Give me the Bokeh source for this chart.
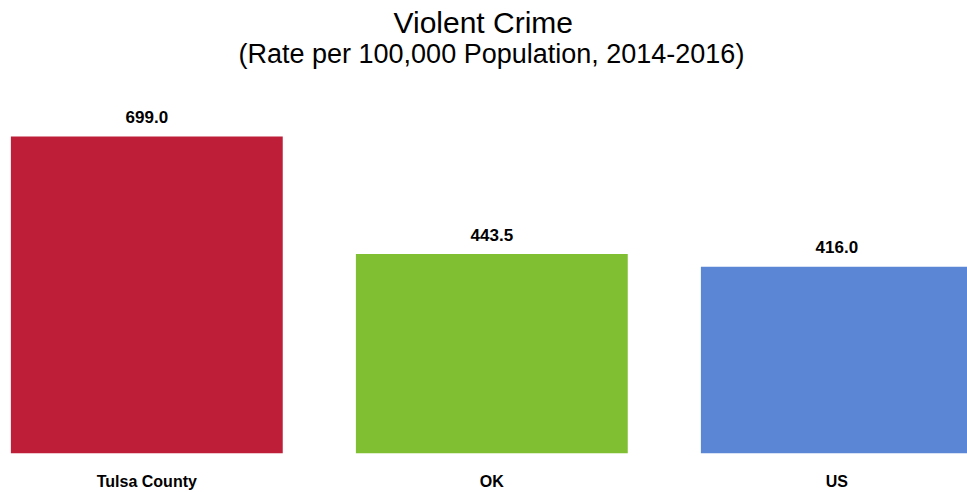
from bokeh.plotting import figure
from bokeh.models import ColumnDataSource, Range1d, FixedTicker, Title
from bokeh.core.properties import value
from bokeh.embed import file_html
from bokeh.resources import INLINE

# ---- data ----
categories = ["Tulsa County", "OK", "US"]
rates = [699.0, 443.5, 416.0]
bar_colors = ["#BE1E37", "#80BF32", "#5B86D6"]
title_text = "Violent Crime"
subtitle_text = "(Rate per 100,000 Population, 2014-2016)"

xs = list(range(len(categories)))
src = ColumnDataSource(dict(
    x=xs,
    top=rates,
    color=bar_colors,
    label=[f"{v:.1f}" for v in rates],
))

LABEL_FONT = "Liberation Sans"

p = figure(
    width=967, height=492,
    output_backend="svg", toolbar_location=None,
    x_range=Range1d(-0.4241, 2.3788),
    y_range=Range1d(10, 862),
    min_border_left=0, min_border_right=0, min_border_top=0, min_border_bottom=39,
    outline_line_color=None,
)

p.add_layout(Title(text=subtitle_text, align="left", offset=238, text_font="Liberation Sans",
                   text_font_size="27px", text_font_style="normal", text_color="#000000",
                   standoff=-14.2), "above")
p.add_layout(Title(text=title_text, align="left", offset=393, text_font="Liberation Sans",
                   text_font_size="30px", text_font_style="normal", text_color="#000000",
                   standoff=8.4), "above")

p.vbar(x="x", top="top", bottom=0, width=0.788, fill_color="color", line_color=None, source=src)

p.text(x="x", y="top", text="label", source=src,
       text_align="center", text_baseline="alphabetic", y_offset=-19.5,
       text_font=value(LABEL_FONT), text_font_style="bold", text_font_size="17px",
       text_color="#000000")

p.yaxis.visible = False
p.grid.visible = False

ax = p.xaxis[0]
ax.ticker = FixedTicker(ticks=xs)
ax.major_label_overrides = {i: c for i, c in zip(xs, categories)}
ax.axis_line_color = None
ax.major_tick_line_color = None
ax.minor_tick_line_color = None
ax.major_tick_out = 0
ax.major_tick_in = 0
ax.major_label_standoff = 19
ax.major_label_text_font = LABEL_FONT
ax.major_label_text_font_style = "bold"
ax.major_label_text_font_size = "16px"
ax.major_label_text_color = "#000000"

open("out.html", "w").write(file_html(p, INLINE))
